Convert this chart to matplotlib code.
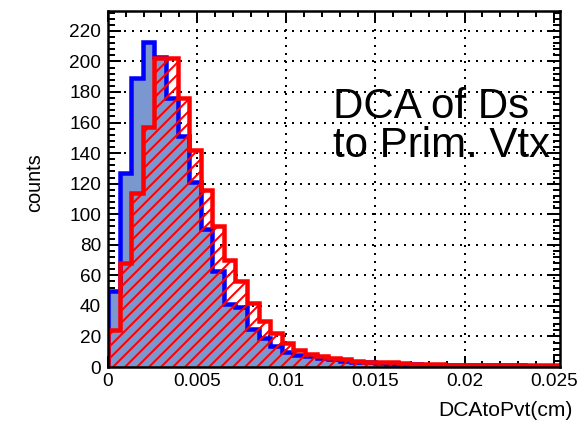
import numpy as np
import matplotlib
matplotlib.use("Agg")
import matplotlib.pyplot as plt

# Histogram binning (cm)
bin_width = 0.00065
n_bins = 39
edges = np.arange(n_bins + 1) * bin_width

# Blue sample (filled)
blue_counts = [50, 127, 189, 213, 203, 176, 151, 121, 90, 63, 41, 39, 25, 19,
               14, 10, 8, 7, 6, 5, 4, 3, 3, 2.5, 2, 2, 2, 1.5, 1.5, 1.5,
               1, 1, 1, 1, 1, 1, 0.5, 0.5, 0.5]
# Red sample (hatched)
red_counts = [24, 68, 114, 157, 202, 202, 176, 142, 116, 92, 70, 56, 42, 30,
              22.5, 16, 11, 8.5, 7, 6, 5, 4, 3.5, 3, 3, 2.5, 2, 2, 2, 1.5,
              1.5, 1.5, 1, 1, 1, 1, 1, 1, 1]

x_ticks = [0, 0.005, 0.01, 0.015, 0.02, 0.025]
x_ticklabels = ["0", "0.005", "0.01", "0.015", "0.02", "0.025"]
y_ticks = list(range(0, 221, 20))

W, H = 582, 429
DPI = 72
plt.rcParams["font.family"] = ["Liberation Sans", "DejaVu Sans"]
plt.rcParams["hatch.linewidth"] = 2.0

fig = plt.figure(figsize=(W / DPI, H / DPI), dpi=DPI)
fig.patch.set_facecolor("white")
x0, x1, ytop, ybot = 108, 560, 11, 367
ax = fig.add_axes([x0 / W, (H - ybot) / H, (x1 - x0) / W, (ybot - ytop) / H])

ax.set_xlim(0, edges[-1])
ax.set_ylim(0, 233)

# blue filled histogram
ax.stairs(blue_counts, edges, fill=True, facecolor="#7a97cf",
          edgecolor="none", linewidth=0, zorder=2)
ax.stairs(blue_counts, edges, baseline=0, color="#0000ff", linewidth=4.5,
          zorder=3)

# red hatched histogram
ax.stairs(red_counts, edges, fill=True, facecolor="none", edgecolor="#ff0000",
          hatch="//", linewidth=0, zorder=4)
ax.stairs(red_counts, edges, baseline=0, color="#ff0000", linewidth=4.5,
          zorder=5)

# axes styling
ax.set_axisbelow(True)
ax.grid(True, which="major", color="black", linestyle=(0, (1, 3)),
        linewidth=2)
ax.set_xticks(x_ticks)
ax.set_xticklabels(x_ticklabels)
ax.set_xticks(np.arange(0, edges[-1], 0.001), minor=True)
ax.set_yticks(y_ticks)
ax.set_yticks(np.arange(0, 233, 4), minor=True)

ax.tick_params(which="both", direction="in", top=True, right=True, width=2,
               labelsize=19, colors="black")
ax.tick_params(axis="x", which="major", length=11, pad=6)
ax.tick_params(axis="x", which="minor", length=6)
ax.tick_params(axis="y", which="major", length=13, pad=7)
ax.tick_params(axis="y", which="minor", length=7)
for s in ax.spines.values():
    s.set_linewidth(2.5)
    s.set_zorder(10)

fig.text(35 / W, 1 - 183 / H, "counts", rotation=90, ha="center",
         va="center", fontsize=20)
fig.text(573 / W, 1 - 410 / H, "DCAtoPvt(cm)", ha="right", va="center",
         fontsize=21)

fig.text(333 / W, 1 - 118 / H, "DCA of Ds", ha="left", va="baseline",
         fontsize=42)
fig.text(333 / W, 1 - 157 / H, "to Prim. Vtx", ha="left", va="baseline",
         fontsize=42)

fig.savefig("out.png", dpi=DPI)
